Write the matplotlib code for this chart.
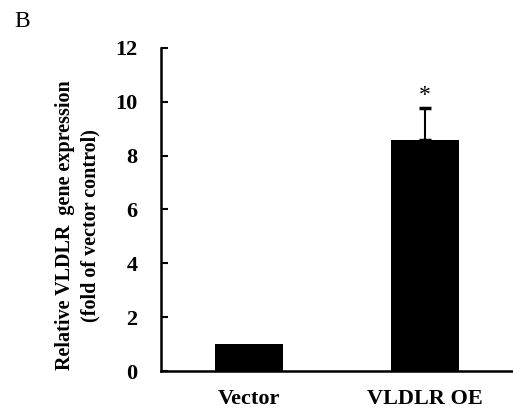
import numpy as np
import matplotlib.pyplot as plt

# data
groups = ['Vector', 'VLDLR OE']
expr = [1.0, 8.58]
err = [0.0, 1.2]
sig = ['', '*']

plt.rcParams['font.family'] = 'Liberation Serif'

fig = plt.figure(figsize=(5.13, 4.16), dpi=100)
ax = fig.add_axes([0.314, 0.108, 0.686, 0.777])

x = np.arange(len(groups))
ax.bar(x, expr, width=0.39, color='black', zorder=2)
for xi, v, e, s in zip(x, expr, err, sig):
    if e > 0:
        ax.errorbar(xi, v, yerr=[[0], [e]], fmt='none', ecolor='black',
                    elinewidth=1.5, capsize=4, capthick=2.5)
    if s:
        ax.text(xi, v + e + 0.05, s, ha='center', va='bottom', fontsize=17)

ax.set_xlim(-0.5, 1.5)
ax.set_ylim(0, 12)
ax.set_yticks(np.arange(0, 13, 2))
ax.set_xticks(x)
ax.set_xticklabels(groups, fontsize=16, fontweight='bold')
ax.tick_params(axis='x', length=0, pad=13)
ax.tick_params(axis='y', direction='in', length=5, width=1.5, pad=17, labelsize=16)
for lab in ax.get_yticklabels():
    lab.set_fontweight('bold')
for sp in ['top', 'right']:
    ax.spines[sp].set_visible(False)
for sp in ['left', 'bottom']:
    ax.spines[sp].set_linewidth(1.8)

ax.set_ylabel('Relative VLDLR  gene expression\n(fold of vector control)',
              fontsize=14.5, fontweight='bold', linespacing=1.4)
ax.yaxis.set_label_coords(-0.172, 0.45)

fig.text(0.028, 0.935, 'B', fontsize=17)

plt.savefig('out.png', dpi=100)
